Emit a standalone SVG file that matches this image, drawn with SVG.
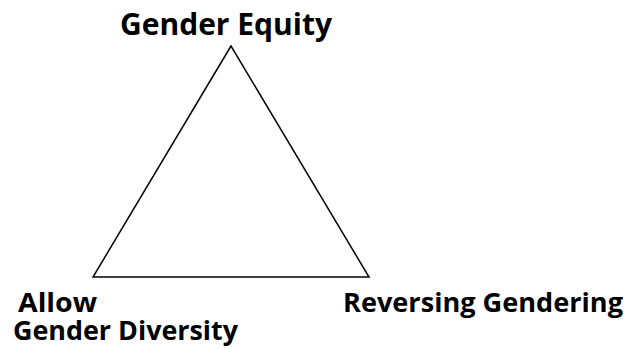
<svg xmlns="http://www.w3.org/2000/svg" width="631" height="349" viewBox="0 0 631 349">
<style>
.lbl{font-family:"Open Sans","DejaVu Sans",sans-serif;font-weight:bold;font-size:27px;fill:#000}
.big{font-size:30px}
.edge{fill:none;stroke:#000;stroke-width:1.5}
</style>
<rect width="631" height="349" fill="#fff"/>
<g id="connectors">
<path class="edge" d="M231,46 L93,277 L369,277 Z"/>
</g>
<g id="gender-equity"><text class="lbl big" x="120" y="35" textLength="212" lengthAdjust="spacingAndGlyphs">Gender Equity</text></g>
<g id="allow-gender-diversity"><text class="lbl" x="18" y="312" textLength="79" lengthAdjust="spacingAndGlyphs">Allow</text><text class="lbl" x="13" y="340" textLength="225" lengthAdjust="spacingAndGlyphs">Gender Diversity</text></g>
<g id="reversing-gendering"><text class="lbl" x="343" y="312" textLength="280" lengthAdjust="spacingAndGlyphs">Reversing Gendering</text></g>
</svg>
